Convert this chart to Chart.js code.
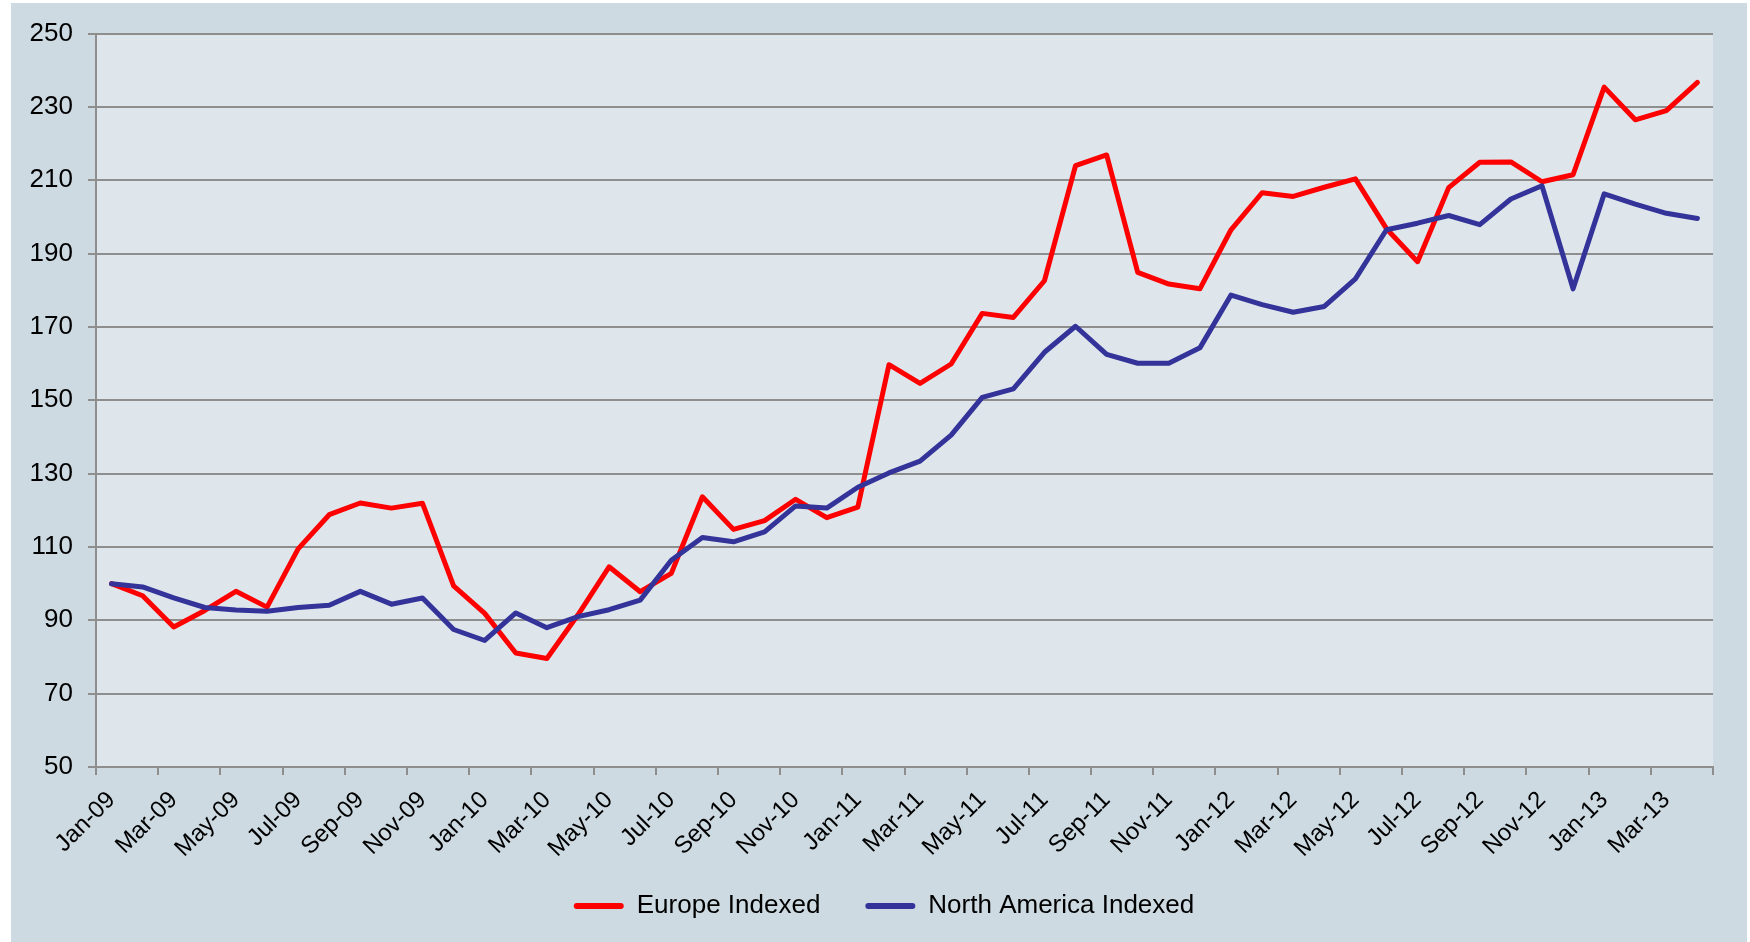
<!DOCTYPE html>
<html>
<head>
<meta charset="utf-8">
<title>Europe vs North America Indexed</title>
<script src="https://cdn.jsdelivr.net/npm/chart.js@4.4.1/dist/chart.umd.min.js"></script>
<style>
    html, body { margin: 0; padding: 0; background: #ffffff; }
    #wrap {
        position: absolute;
        left: 11px;
        top: 3px;
        width: 1736px;
        height: 939px;
        background: #cddae2;
    }
</style>
</head>
<body>
<div id="wrap"><canvas id="chart"></canvas></div>
<script>
const months = [
    'Jan-09', 'Feb-09', 'Mar-09', 'Apr-09', 'May-09', 'Jun-09', 'Jul-09', 'Aug-09', 'Sep-09', 'Oct-09', 'Nov-09', 'Dec-09',
    'Jan-10', 'Feb-10', 'Mar-10', 'Apr-10', 'May-10', 'Jun-10', 'Jul-10', 'Aug-10', 'Sep-10', 'Oct-10', 'Nov-10', 'Dec-10',
    'Jan-11', 'Feb-11', 'Mar-11', 'Apr-11', 'May-11', 'Jun-11', 'Jul-11', 'Aug-11', 'Sep-11', 'Oct-11', 'Nov-11', 'Dec-11',
    'Jan-12', 'Feb-12', 'Mar-12', 'Apr-12', 'May-12', 'Jun-12', 'Jul-12', 'Aug-12', 'Sep-12', 'Oct-12', 'Nov-12', 'Dec-12',
    'Jan-13', 'Feb-13', 'Mar-13', 'Apr-13'
];

const europe = [
    100, 96.7, 88.2, 92.7, 97.9, 93.6, 109.5, 118.8, 122, 120.6, 121.9, 99.4,
    91.9, 81.1, 79.6, 91.5, 104.6, 97.8, 102.8, 123.7, 114.8, 117.2, 123, 118,
    120.9, 159.7, 154.6, 159.9, 173.7, 172.6, 182.6, 214, 216.9, 184.9, 181.7, 180.4,
    196.5, 206.6, 205.6, 208.1, 210.4, 196.8, 187.8, 208, 214.9, 215, 209.6, 211.5,
    235.4, 226.5, 229, 236.7
];

const northAmerica = [
    100, 99.1, 96.1, 93.5, 92.8, 92.5, 93.5, 94.1, 97.9, 94.4, 96.1, 87.5,
    84.5, 92, 88, 91, 92.9, 95.5, 106.4, 112.6, 111.4, 114.1, 121.2, 120.6,
    126.3, 130.2, 133.4, 140.5, 150.8, 153.1, 163.1, 170.2, 162.5, 160.1, 160.1, 164.3,
    178.7, 176.1, 174, 175.6, 183.1, 196.5, 198.3, 200.4, 197.9, 204.9, 208.5, 180.4,
    206.3, 203.5, 201, 199.6
];

const yTicks = { min: 50, max: 250, step: 20 };

const gridGrey = '#8e8e8e';

// light panel behind the plot area
const plotBackground = {
    id: 'plotBackground',
    beforeDraw(chart) {
        const a = chart.chartArea;
        const ctx = chart.ctx;
        ctx.save();
        ctx.fillStyle = '#dee6ec';
        ctx.fillRect(a.left, a.top, a.right - a.left, a.bottom - a.top);
        ctx.restore();
    }
};

// legend sits a bit right of centre; x labels may run down past the axis box
const layoutTweaks = {
    id: 'layoutTweaks',
    afterLayout(chart) {
        chart.legend.left += 22;
        chart.legend.right += 22;
        chart.scales.x._computeLabelArea = function() { return undefined; };
    }
};

Chart.defaults.font.family = "'Liberation Sans', Arial, sans-serif";
Chart.defaults.color = '#000000';

const ctx = document.getElementById('chart').getContext('2d');

new Chart(ctx, {
    type: 'line',
    data: {
        labels: months,
        datasets: [
            {
                label: 'Europe Indexed',
                data: europe,
                borderColor: '#ff0000',
                backgroundColor: '#ff0000',
                borderWidth: 5,
                pointRadius: 0,
                tension: 0,
                borderJoinStyle: 'round',
                borderCapStyle: 'round',
                order: 1
            },
            {
                label: 'North America Indexed',
                data: northAmerica,
                borderColor: '#333399',
                backgroundColor: '#333399',
                borderWidth: 5,
                pointRadius: 0,
                tension: 0,
                borderJoinStyle: 'round',
                borderCapStyle: 'round',
                order: 0
            }
        ]
    },
    options: {
        responsive: true,
        maintainAspectRatio: false,
        animation: false,
        layout: {
            padding: { top: 30, right: 34, bottom: 13, left: 0 }
        },
        plugins: {
            legend: {
                position: 'bottom',
                labels: {
                    font: { size: 26 },
                    color: '#000000',
                    boxWidth: 50,
                    boxHeight: 6,
                    useBorderRadius: true,
                    borderRadius: 3,
                    padding: 45,
                    sort: (a, b) => a.datasetIndex - b.datasetIndex,
                    generateLabels: function(chart) {
                        const items = Chart.defaults.plugins.legend.labels.generateLabels(chart);
                        items.forEach(it => {
                            it.lineWidth = 0;
                            it.strokeStyle = 'rgba(0,0,0,0)';
                        });
                        return items;
                    }
                }
            },
            tooltip: { enabled: false }
        },
        scales: {
            x: {
                offset: true,
                afterFit: function(scale) { scale.height = 81; },
                grid: {
                    offset: true,
                    drawOnChartArea: false,
                    drawTicks: true,
                    tickLength: 8,
                    lineWidth: 2,
                    color: function(c) {
                        if (c.index === undefined || c.index % 2 === 0) return gridGrey;
                        return 'rgba(0,0,0,0)';
                    }
                },
                border: { display: true, color: gridGrey, width: 2 },
                ticks: {
                    autoSkip: false,
                    minRotation: 45,
                    maxRotation: 45,
                    padding: 11,
                    font: { size: 24 },
                    color: '#000000',
                    callback: function(value, index) {
                        return index % 2 === 0 ? this.getLabelForValue(value) : '';
                    }
                }
            },
            y: {
                min: yTicks.min,
                max: yTicks.max,
                afterFit: function(scale) { scale.width = 85; },
                grid: {
                    color: gridGrey,
                    lineWidth: 2,
                    tickLength: 8
                },
                border: { display: true, color: gridGrey, width: 2 },
                ticks: {
                    stepSize: yTicks.step,
                    padding: 15,
                    font: { size: 26 },
                    color: '#000000'
                }
            }
        }
    },
    plugins: [plotBackground, layoutTweaks]
});
</script>
</body>
</html>
